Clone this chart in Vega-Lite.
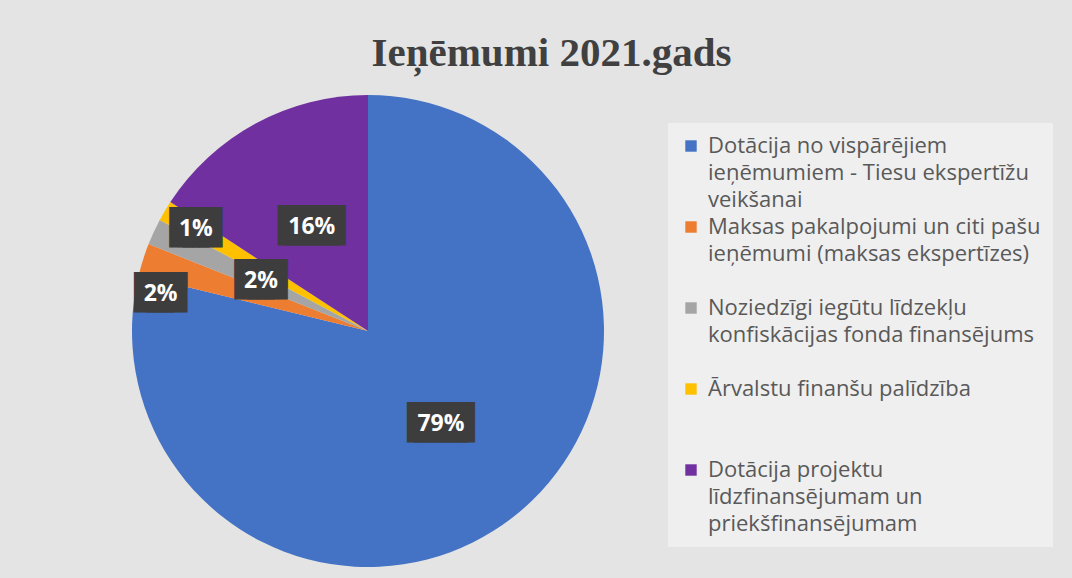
{
  "$schema": "https://vega.github.io/schema/vega-lite/v6.json",
  "width": 720,
  "height": 472,
  "autosize": {"type": "none"},
  "padding": {"left": 8, "top": 95, "right": 344, "bottom": 11},
  "background": "#e4e4e4",
  "config": {"view": {"stroke": null}},
  "title": {
    "text": "Ieņēmumi 2021.gads",
    "font": "Liberation Serif",
    "fontSize": 41,
    "fontWeight": "bold",
    "color": "#404040",
    "anchor": "middle",
    "frame": "bounds",
    "baseline": "alphabetic",
    "offset": -12,
    "dx": 21
  },
  "data": {
    "values": [
      {"nr": 1, "kategorija": "Dotācija no vispārējiem ieņēmumiem - Tiesu ekspertīžu veikšanai", "share": 0.788},
      {"nr": 2, "kategorija": "Maksas pakalpojumi un citi pašu ieņēmumi (maksas ekspertīzes)", "share": 0.022},
      {"nr": 3, "kategorija": "Noziedzīgi iegūtu līdzekļu konfiskācijas fonda finansējums", "share": 0.018},
      {"nr": 4, "kategorija": "Ārvalstu finanšu palīdzība", "share": 0.014},
      {"nr": 5, "kategorija": "Dotācija projektu līdzfinansējumam un priekšfinansējumam", "share": 0.158}
    ]
  },
  "encoding": {
    "theta": {"field": "share", "type": "quantitative", "stack": true},
    "order": {"field": "nr", "type": "quantitative"}
  },
  "layer": [
    {
      "mark": {"type": "arc", "outerRadius": 236},
      "encoding": {
        "color": {
          "field": "kategorija",
          "type": "nominal",
          "sort": null,
          "scale": {
            "domain": [
              "Dotācija no vispārējiem ieņēmumiem - Tiesu ekspertīžu veikšanai",
              "Maksas pakalpojumi un citi pašu ieņēmumi (maksas ekspertīzes)",
              "Noziedzīgi iegūtu līdzekļu konfiskācijas fonda finansējums",
              "Ārvalstu finanšu palīdzība",
              "Dotācija projektu līdzfinansējumam un priekšfinansējumam"
            ],
            "range": ["#4472C4", "#ED7D31", "#A5A5A5", "#FFC000", "#7030A0"]
          },
          "legend": {
            "orient": "none",
            "legendX": 660,
            "legendY": 28,
            "direction": "vertical",
            "title": null,
            "symbolType": "square",
            "symbolSize": 130,
            "symbolStrokeWidth": 0,
            "labelFont": "Open Sans",
            "labelFontSize": 22,
            "labelColor": "#595959",
            "labelLimit": 600,
            "labelOffset": 6,
            "labelBaseline": "middle",
            "rowPadding": 5,
            "padding": 12,
            "fillColor": "#efefef",
            "labelExpr": "datum.label == 'Dotācija no vispārējiem ieņēmumiem - Tiesu ekspertīžu veikšanai' ? ['Dotācija no vispārējiem', 'ieņēmumiem - Tiesu ekspertīžu', 'veikšanai'] : datum.label == 'Maksas pakalpojumi un citi pašu ieņēmumi (maksas ekspertīzes)' ? ['Maksas pakalpojumi un citi pašu', 'ieņēmumi (maksas ekspertīzes)', ''] : datum.label == 'Noziedzīgi iegūtu līdzekļu konfiskācijas fonda finansējums' ? ['Noziedzīgi iegūtu līdzekļu', 'konfiskācijas fonda finansējums', ''] : datum.label == 'Ārvalstu finanšu palīdzība' ? ['Ārvalstu finanšu palīdzība', '', ''] : ['Dotācija projektu', 'līdzfinansējumam un', 'priekšfinansējumam']",
            "encode": {"labels": {"update": {"lineHeight": {"value": 27}}}}
          }
        }
      }
    },
    {
      "mark": {"type": "text", "radius": 118, "dx": -3.5, "font": "DejaVu Sans Mono", "fontSize": 34, "color": "#3d3d3d", "baseline": "middle"},
      "encoding": {
        "detail": {"field": "kategorija"},
        "text": {"value": "▐██▌"},
        "opacity": {"condition": {"test": "datum.nr == 1 || datum.nr == 5", "value": 1}, "value": 0}
      }
    },
    {
      "mark": {"type": "text", "radius": 118, "dx": 3.5, "font": "DejaVu Sans Mono", "fontSize": 34, "color": "#3d3d3d", "baseline": "middle"},
      "encoding": {
        "detail": {"field": "kategorija"},
        "text": {"value": "▐██▌"},
        "opacity": {"condition": {"test": "datum.nr == 1 || datum.nr == 5", "value": 1}, "value": 0}
      }
    },
    {
      "mark": {"type": "text", "radius": 118, "dx": -6.5, "font": "DejaVu Sans Mono", "fontSize": 34, "color": "#3d3d3d", "baseline": "middle"},
      "encoding": {
        "detail": {"field": "kategorija"},
        "text": {"value": "▐█▌"},
        "opacity": {"condition": {"test": "datum.nr == 3", "value": 1}, "value": 0}
      }
    },
    {
      "mark": {"type": "text", "radius": 118, "dx": 6.5, "font": "DejaVu Sans Mono", "fontSize": 34, "color": "#3d3d3d", "baseline": "middle"},
      "encoding": {
        "detail": {"field": "kategorija"},
        "text": {"value": "▐█▌"},
        "opacity": {"condition": {"test": "datum.nr == 3", "value": 1}, "value": 0}
      }
    },
    {
      "mark": {"type": "text", "radius": 200, "dx": -6.5, "font": "DejaVu Sans Mono", "fontSize": 34, "color": "#3d3d3d", "baseline": "middle"},
      "encoding": {
        "detail": {"field": "kategorija"},
        "text": {"value": "▐█▌"},
        "opacity": {"condition": {"test": "datum.nr == 4", "value": 1}, "value": 0}
      }
    },
    {
      "mark": {"type": "text", "radius": 200, "dx": 6.5, "font": "DejaVu Sans Mono", "fontSize": 34, "color": "#3d3d3d", "baseline": "middle"},
      "encoding": {
        "detail": {"field": "kategorija"},
        "text": {"value": "▐█▌"},
        "opacity": {"condition": {"test": "datum.nr == 4", "value": 1}, "value": 0}
      }
    },
    {
      "mark": {"type": "text", "radius": 205, "dx": -18.5, "dy": 25, "font": "DejaVu Sans Mono", "fontSize": 34, "color": "#3d3d3d", "baseline": "middle"},
      "encoding": {
        "detail": {"field": "kategorija"},
        "text": {"value": "▐█▌"},
        "opacity": {"condition": {"test": "datum.nr == 2", "value": 1}, "value": 0}
      }
    },
    {
      "mark": {"type": "text", "radius": 205, "dx": -5.5, "dy": 25, "font": "DejaVu Sans Mono", "fontSize": 34, "color": "#3d3d3d", "baseline": "middle"},
      "encoding": {
        "detail": {"field": "kategorija"},
        "text": {"value": "▐█▌"},
        "opacity": {"condition": {"test": "datum.nr == 2", "value": 1}, "value": 0}
      }
    },
    {
      "mark": {"type": "text", "radius": 118, "font": "Open Sans", "fontSize": 23, "fontWeight": "bold", "color": "#ffffff", "baseline": "middle"},
      "encoding": {
        "detail": {"field": "kategorija"},
        "text": {"field": "share", "type": "quantitative", "format": ".0%"},
        "opacity": {"condition": {"test": "datum.nr == 1 || datum.nr == 5 || datum.nr == 3", "value": 1}, "value": 0}
      }
    },
    {
      "mark": {"type": "text", "radius": 200, "font": "Open Sans", "fontSize": 23, "fontWeight": "bold", "color": "#ffffff", "baseline": "middle"},
      "encoding": {
        "detail": {"field": "kategorija"},
        "text": {"field": "share", "type": "quantitative", "format": ".0%"},
        "opacity": {"condition": {"test": "datum.nr == 4", "value": 1}, "value": 0}
      }
    },
    {
      "mark": {"type": "text", "radius": 205, "dx": -12, "dy": 25, "font": "Open Sans", "fontSize": 23, "fontWeight": "bold", "color": "#ffffff", "baseline": "middle"},
      "encoding": {
        "detail": {"field": "kategorija"},
        "text": {"field": "share", "type": "quantitative", "format": ".0%"},
        "opacity": {"condition": {"test": "datum.nr == 2", "value": 1}, "value": 0}
      }
    }
  ]
}
